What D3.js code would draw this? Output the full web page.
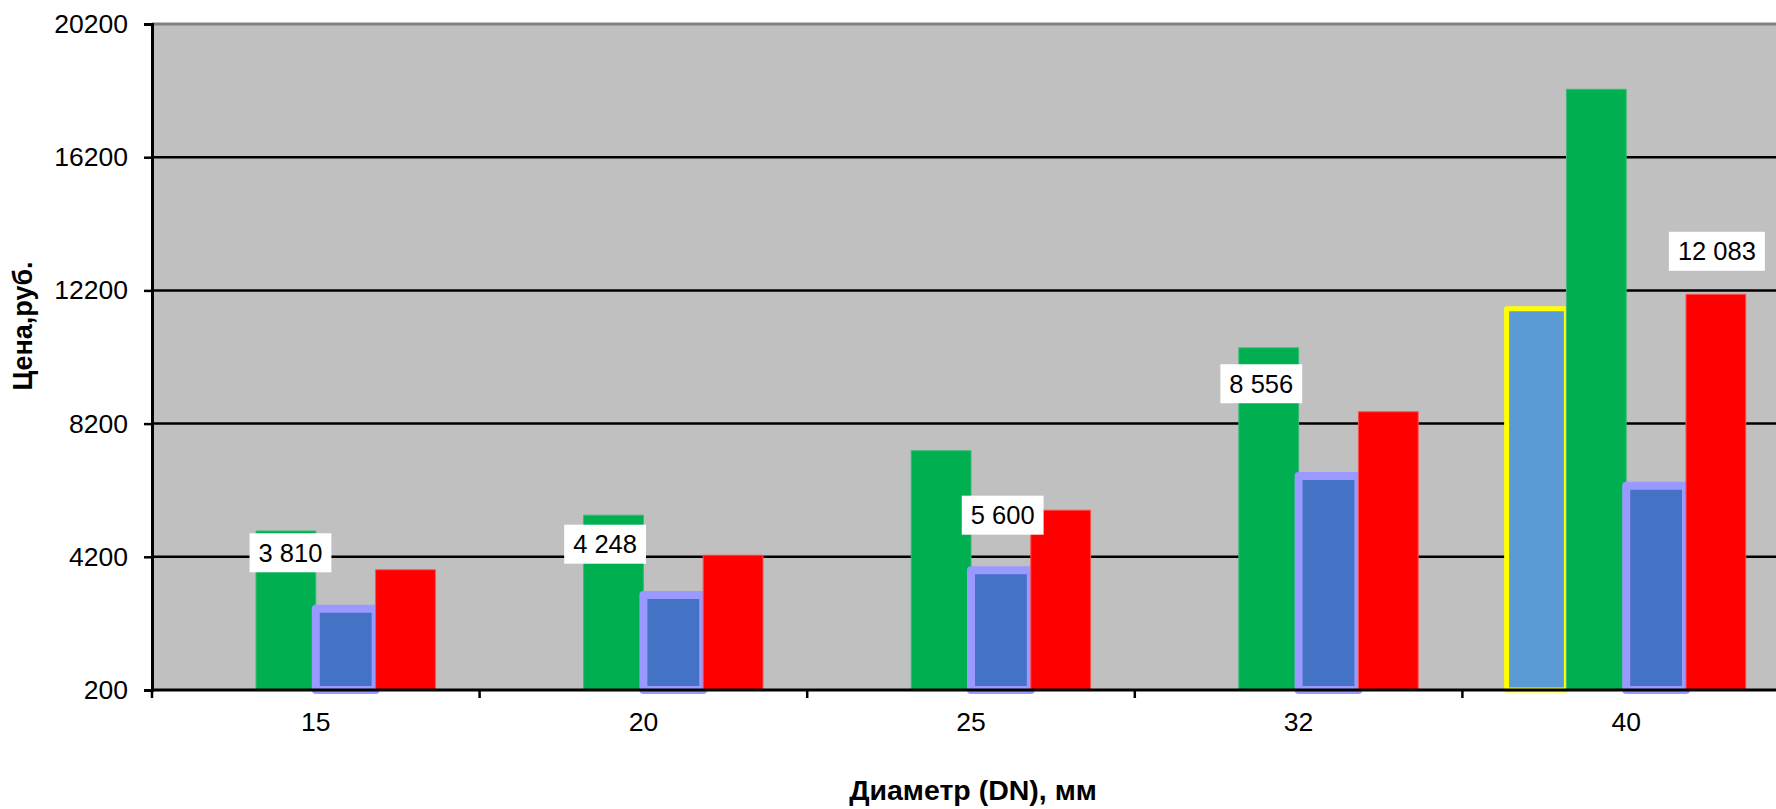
<!DOCTYPE html>
<html lang="ru">
<head>
    <meta charset="UTF-8">
    <title>Цена по диаметру</title>
    <script src="https://d3js.org/d3.v7.min.js"></script>
    <style>
        body { margin: 0; background: #fff; }
        svg { display: block; font-family: Arial, "Liberation Sans", sans-serif; }
        .tick-label { font-size: 26.5px; fill: #000; }
        .axis-title { font-size: 27px; font-weight: bold; fill: #000; }
        .value-label { font-size: 25.5px; fill: #000; }
    </style>
</head>
<body>
    <div id="chart"></div>

    <script>
        // data
        const categories = ["15", "20", "25", "32", "40"];
        const seriesKeys = ["lightBlue", "green", "blue", "red"];
        const lightBlueValues = [null, null, null, null, 11650];
        const greenValues = [4975, 5450, 7386, 10475, 18240];
        const blueValues = [2640, 3050, 3795, 6625, 6332];
        const redValues = [3810, 4248, 5600, 8556, 12083];
        const redLabels = ["3 810", "4 248", "5 600", "8 556", "12 083"];
        const yTicks = [200, 4200, 8200, 12200, 16200, 20200];

        // hand-placed label nudges (px from the top of the red bar)
        const labelNudge = [[-115, -17], [-128, -11], [-58, 5], [-127, -28], [1, -43]];

        const seriesStyle = {
            lightBlue: { fill: "#5B9BD5", stroke: "#FFFF00", sw: 5 },
            green: { fill: "#00B050", stroke: "#3CB878", sw: 1 },
            blue: { fill: "#4472C4", stroke: "#9999FF", sw: 8 },
            red: { fill: "#FF0000", stroke: "#FF5050", sw: 1 }
        };
        const seriesValues = {
            lightBlue: lightBlueValues,
            green: greenValues,
            blue: blueValues,
            red: redValues
        };

        const W = 1776, H = 809;
        const plotLeft = 152, plotTop = 24, plotBottom = 690;
        const bandW = 327.6;

        const svg = d3.select("#chart").append("svg")
            .attr("width", W)
            .attr("height", H);

        const x = d3.scaleBand()
            .domain(categories)
            .range([plotLeft, plotLeft + bandW * categories.length])
            .padding(0);

        const x1 = d3.scaleBand()
            .domain(seriesKeys)
            .range([x.bandwidth() * 0.135, x.bandwidth() * 0.865])
            .padding(0);

        const y = d3.scaleLinear()
            .domain([200, 20200])
            .range([plotBottom, plotTop]);

        // plot background
        svg.append("rect")
            .attr("x", plotLeft)
            .attr("y", plotTop)
            .attr("width", W - plotLeft)
            .attr("height", plotBottom - plotTop)
            .attr("fill", "#C0C0C0");

        // gridlines
        svg.selectAll("line.grid")
            .data(yTicks.slice(1, -1))
            .join("line")
            .attr("class", "grid")
            .attr("x1", plotLeft).attr("x2", W)
            .attr("y1", d => y(d)).attr("y2", d => y(d))
            .attr("stroke", "#000")
            .attr("stroke-width", 2.5);

        // top border
        svg.append("line")
            .attr("x1", plotLeft).attr("x2", W)
            .attr("y1", y(20200)).attr("y2", y(20200))
            .attr("stroke", "#808080")
            .attr("stroke-width", 3);

        // bars, series by series so later ones overlap earlier borders
        seriesKeys.forEach(key => {
            const st = seriesStyle[key];
            const rows = categories.map((c, i) => ({ cat: c, v: seriesValues[key][i] }))
                .filter(d => d.v != null);
            svg.append("g")
                .selectAll("rect")
                .data(rows)
                .join("rect")
                .attr("x", d => x(d.cat) + x1(key))
                .attr("y", d => y(d.v))
                .attr("width", x1.bandwidth())
                .attr("height", d => y(200) - y(d.v))
                .attr("fill", st.fill)
                .attr("stroke", st.stroke)
                .attr("stroke-width", st.sw)
                .attr("stroke-linejoin", "round");
        });

        // y axis
        const yAxis = svg.append("g")
            .attr("transform", `translate(${plotLeft},0)`)
            .call(d3.axisLeft(y).tickValues(yTicks).tickSize(8).tickPadding(16).tickFormat(d3.format("d")));
        yAxis.attr("font-size", null).attr("font-family", null);
        yAxis.select(".domain").attr("stroke", "#000").attr("stroke-width", 3);
        yAxis.selectAll(".tick line").attr("stroke", "#000").attr("stroke-width", 2.5);
        yAxis.selectAll(".tick text").attr("class", "tick-label");

        // x axis: line + ticks at the category boundaries
        svg.append("line")
            .attr("x1", plotLeft).attr("x2", W)
            .attr("y1", plotBottom).attr("y2", plotBottom)
            .attr("stroke", "#000")
            .attr("stroke-width", 3);

        svg.selectAll("line.xtick")
            .data(categories)
            .join("line")
            .attr("class", "xtick")
            .attr("x1", d => x(d)).attr("x2", d => x(d))
            .attr("y1", plotBottom).attr("y2", plotBottom + 8)
            .attr("stroke", "#000")
            .attr("stroke-width", 2.5);

        svg.selectAll("text.xlab")
            .data(categories)
            .join("text")
            .attr("class", "xlab tick-label")
            .attr("x", d => x(d) + x.bandwidth() / 2)
            .attr("y", plotBottom + 41)
            .attr("text-anchor", "middle")
            .text(d => d);

        // value labels on white boxes
        const lab = svg.append("g").selectAll("g")
            .data(redValues.map((v, i) => ({ v, i })))
            .join("g")
            .attr("transform", d => {
                const cx = x(categories[d.i]) + x1("red") + x1.bandwidth() / 2 + labelNudge[d.i][0];
                const cy = y(d.v) + labelNudge[d.i][1];
                return `translate(${cx},${cy})`;
            });

        lab.append("rect").attr("fill", "#fff");
        lab.append("text")
            .attr("class", "value-label")
            .attr("text-anchor", "middle")
            .attr("dy", "0.35em")
            .text(d => redLabels[d.i]);
        lab.each(function () {
            const g = d3.select(this);
            const bb = g.select("text").node().getBBox();
            g.select("rect")
                .attr("x", bb.x - 9)
                .attr("y", -19.5)
                .attr("width", bb.width + 18)
                .attr("height", 39);
        });

        // axis titles
        svg.append("text")
            .attr("class", "axis-title")
            .attr("transform", `translate(32,326) rotate(-90)`)
            .attr("text-anchor", "middle")
            .text("Цена,руб.");

        svg.append("text")
            .attr("class", "axis-title")
            .attr("x", 973)
            .attr("y", 800)
            .attr("text-anchor", "middle")
            .style("font-size", "28.5px")
            .text("Диаметр (DN), мм");
    </script>
</body>
</html>
